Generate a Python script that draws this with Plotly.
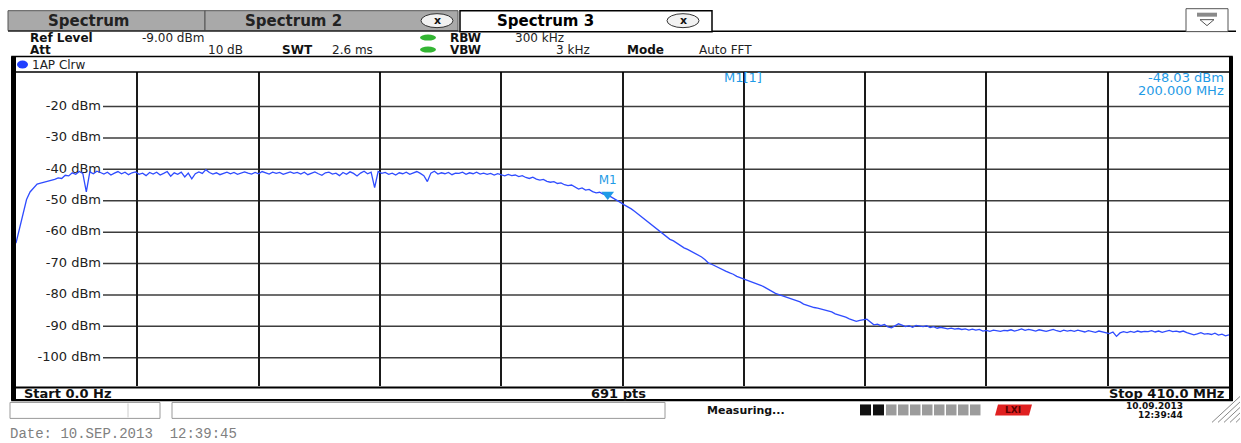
import numpy as np
import plotly.graph_objects as go

# ---------------- data ----------------
START_MHZ = 0.0
STOP_MHZ = 410.0
REF_LEVEL_DBM = -9.0
BOTTOM_DBM = -109.0
SWEEP_POINTS_TEXT = "691 pts"

LEVEL_DBM = [
    -63.5, -58.6, -54.0, -49.6, -47.2, -45.9, -44.7, -44.4, -44.1, -43.9,
    -43.6, -43.2, -42.7, -42.9, -41.9, -42.1, -41.1, -41.6, -40.7, -41.3,
    -47.2, -40.8, -41.4, -40.6, -41.0, -41.5, -40.9, -41.8, -41.2, -40.7,
    -41.4, -40.9, -41.7, -41.1, -40.8, -41.6, -41.2, -42.0, -41.0, -41.5,
    -40.9, -41.8, -41.3, -40.7, -42.2, -41.1, -41.6, -40.9, -42.4, -41.2,
    -43.0, -41.4, -40.8, -41.3, -40.1, -41.0, -41.5, -41.1, -41.7, -41.2,
    -40.9, -41.4, -41.0, -41.6, -41.3, -40.8, -41.2, -41.5, -41.0, -41.4,
    -40.7, -41.1, -41.5, -40.9, -41.3, -41.0, -41.6, -41.2, -40.8, -41.3,
    -41.0, -41.5, -40.9, -41.7, -41.2, -40.8, -41.4, -41.9, -41.1, -40.9,
    -41.5, -41.2, -42.0, -41.0, -41.6, -40.8, -41.3, -42.1, -41.2, -40.6,
    -41.4, -40.9, -45.8, -40.7, -41.3, -41.0, -41.6, -41.2, -41.8, -41.1,
    -41.4, -40.9, -41.6, -41.2, -40.7, -41.3, -42.0, -43.9, -41.2, -40.6,
    -41.5, -41.1, -41.4, -41.0, -41.7, -41.2, -41.3, -40.9, -41.6, -41.1,
    -41.4, -40.9, -41.5, -41.2, -41.6, -41.3, -41.8, -41.4, -41.7, -42.1,
    -41.6, -42.0, -41.8, -42.3, -42.0, -42.6, -42.9, -42.5, -43.1, -43.4,
    -43.2, -43.8, -44.1, -43.9, -44.5, -44.3, -44.9, -45.2, -45.0, -45.6,
    -46.3, -45.9, -46.6, -46.4, -47.1, -47.5, -47.3, -47.9, -48.0, -48.6,
    -49.2, -49.8, -50.6, -51.3, -51.9, -52.6, -53.4, -54.3, -55.1, -56.0,
    -57.0, -57.9, -58.8, -59.9, -60.7, -61.4, -62.3, -62.8, -63.6, -64.2,
    -65.0, -65.5, -66.1, -66.9, -67.4, -67.9, -68.8, -69.9, -70.3, -70.9,
    -71.5, -71.9, -72.5, -73.0, -73.4, -74.1, -74.5, -75.0, -75.4, -75.6,
    -76.2, -76.5, -77.0, -77.6, -78.3, -78.9, -79.5, -79.9, -80.3, -80.6,
    -80.9, -81.3, -81.7, -82.2, -82.9, -83.3, -83.6, -84.0, -84.2, -84.5,
    -84.8, -85.1, -85.4, -86.0, -86.3, -86.7, -87.1, -87.6, -87.9, -88.4,
    -88.1, -87.8, -87.7, -88.6, -89.5, -89.3, -89.8, -89.4, -90.2, -90.5,
    -89.9, -89.2, -89.6, -90.1, -89.8, -90.3, -89.7, -90.0, -90.1, -89.8,
    -90.4, -90.1, -90.6, -90.3, -90.5, -90.8, -90.6, -90.9, -90.7, -91.0,
    -90.8, -91.2, -90.9, -91.2, -91.0, -91.5, -91.3, -91.6, -91.2, -91.4,
    -91.6, -91.3, -91.4, -91.1, -91.5, -91.2, -90.8, -91.3, -91.0, -91.2,
    -91.5, -91.1, -91.4, -91.6, -91.3, -91.0, -91.4, -91.7, -91.2, -91.5,
    -91.3, -91.6, -91.2, -91.5, -91.8, -91.4, -91.6, -91.9, -91.5, -91.8,
    -92.0, -92.3, -91.8, -93.2, -92.1, -91.7, -92.0, -91.6, -91.9, -91.5,
    -91.8, -91.6, -91.7, -91.4, -91.8, -91.5, -91.9, -91.6, -91.3, -91.7,
    -91.5, -91.8, -91.5, -92.0, -92.3, -92.7, -92.4, -92.0, -92.5, -92.3,
    -92.6, -92.2, -92.8, -92.5, -93.0, -92.7,
]
FREQ_MHZ = np.linspace(START_MHZ, STOP_MHZ, len(LEVEL_DBM))

X_GRID_MHZ = [41, 82, 123, 164, 205, 246, 287, 328, 369]
Y_GRID_DBM = [-20, -30, -40, -50, -60, -70, -80, -90, -100]
Y_LABELS = ["-20 dBm", "-30 dBm", "-40 dBm", "-50 dBm", "-60 dBm",
            "-70 dBm", "-80 dBm", "-90 dBm", "-100 dBm"]

MARKER_NAME = "M1"
MARKER_FREQ_MHZ = 200.0
MARKER_LEVEL_DBM = -48.03

# ---------------- page geometry (pixels) ----------------
W, H = 1241, 443
L, R, T, B = 16, 1229, 71.5, 386.5


def px(x):
    return (x - L) / (R - L)


def py(y):
    return (B - y) / (B - T)


def rect(x0, y0, x1, y1, fill=None, line="black", lw=1, layer="above"):
    d = dict(type="rect", xref="paper", yref="paper",
             x0=px(x0), x1=px(x1), y0=py(y1), y1=py(y0), layer=layer,
             line=dict(color=line, width=lw) if line else dict(width=0))
    if fill:
        d["fillcolor"] = fill
    return d


def circ(x0, y0, x1, y1, fill, line=None, lw=1):
    d = dict(type="circle", xref="paper", yref="paper",
             x0=px(x0), x1=px(x1), y0=py(y1), y1=py(y0), fillcolor=fill,
             line=dict(color=line, width=lw) if line else dict(width=0))
    return d


def hline(x0, x1, y, color="black", lw=1):
    return dict(type="line", xref="paper", yref="paper", x0=px(x0), x1=px(x1),
                y0=py(y), y1=py(y), line=dict(color=color, width=lw))


def seg(x0, y0, x1, y1, color="black", lw=1):
    return dict(type="line", xref="paper", yref="paper", x0=px(x0), x1=px(x1),
                y0=py(y0), y1=py(y1), line=dict(color=color, width=lw))


def path(points, fill, line=None, lw=1):
    p = "M " + " L ".join(f"{px(a):.5f},{py(b):.5f}" for a, b in points) + " Z"
    return dict(type="path", xref="paper", yref="paper", path=p, fillcolor=fill,
                line=dict(color=line, width=lw) if line else dict(width=0))


def text(x, y, s, size=12, color="#111", anchor="left", bold=False,
         family="DejaVu Sans"):
    return dict(xref="paper", yref="paper", x=px(x), y=py(y), text=s,
                showarrow=False, xanchor=anchor, yanchor="middle",
                font=dict(family=family, size=size, color=color,
                          weight="bold" if bold else "normal"))


TRACE_BLUE = "#2f4cff"
MARK_BLUE = "#1f9be6"

fig = go.Figure()

# level labels inside the diagram (drawn below the trace)
label_x = (101 - L) / (R - L) * (STOP_MHZ - START_MHZ) + START_MHZ
fig.add_trace(go.Scatter(
    x=[label_x] * len(Y_GRID_DBM), y=Y_GRID_DBM, mode="text",
    text=Y_LABELS, textposition="middle left",
    textfont=dict(family="DejaVu Sans", size=13, color="#222"),
    hoverinfo="skip", cliponaxis=False))

# the measured trace
fig.add_trace(go.Scatter(
    x=FREQ_MHZ, y=LEVEL_DBM, mode="lines",
    line=dict(color=TRACE_BLUE, width=1.3), hoverinfo="skip"))

# marker M1
fig.add_trace(go.Scatter(
    x=[MARKER_FREQ_MHZ], y=[MARKER_LEVEL_DBM], mode="markers+text",
    marker=dict(symbol="triangle-down", size=11, color=MARK_BLUE),
    text=[MARKER_NAME], textposition="top center",
    textfont=dict(family="DejaVu Sans", size=12, color=MARK_BLUE),
    hoverinfo="skip", cliponaxis=False))

shapes = []
# horizontal level grid lines (start after the labels)
for v in Y_GRID_DBM:
    shapes.append(dict(type="line", xref="paper", yref="y", x0=px(103), x1=1,
                       y0=v, y1=v, layer="below",
                       line=dict(color="#3c3c3c", width=1.5)))

# ---- diagram frame ----
shapes += [
    rect(12, 56, 1232, 401, line="black", lw=1.5),
    rect(11, 56, 16, 401, fill="black", line=None),
    rect(1229, 56, 1233, 401, fill="black", line=None),
    hline(16, 1229, 71.5, "black", 1.5),
    hline(16, 1229, 388, "black", 2),
    hline(12, 1233, 400.5, "black", 2),
    circ(17, 60, 28, 68, fill="#1f3fff"),
]

# ---- tabs ----
shapes += [
    rect(8, 10, 205, 30, fill="#a9a9a9", line="#555", lw=1),
    rect(205, 10, 458, 30, fill="#a9a9a9", line="#555", lw=1),
    rect(460, 10, 712, 31, fill="white", line="black", lw=1.5),
    hline(712, 1236, 30.5, "black", 1.5),
    hline(8, 460, 30.5, "black", 1),
    circ(421, 13, 453, 27, fill="#f2f2f2", line="#333", lw=1),
    circ(667, 13, 699, 27, fill="#f2f2f2", line="#333", lw=1),
    rect(1186, 8, 1228, 31, fill="white", line="#555", lw=1),
    rect(1197, 12, 1217, 16, fill="#8a8a8a", line=None),
    path([(1200, 19), (1214, 19), (1207, 25)], fill="white", line="#555"),
    circ(420, 34, 436, 40, fill="#33b533"),
    circ(420, 46, 436, 52, fill="#33b533"),
]

# ---- status bar ----
shapes += [
    rect(10, 403, 160, 419, fill="white", line="#9a9a9a", lw=1),
    seg(128, 404, 128, 418, "#cccccc", 1),
    rect(172, 403, 665, 419, fill="white", line="#9a9a9a", lw=1),
    rect(860, 405, 871, 416, fill="#111", line=None),
    rect(873, 405, 884, 416, fill="#111", line=None),
]
for k in range(8):
    x0 = 886 + k * 12
    shapes.append(rect(x0, 405, x0 + 10.5, 416, fill="#9c9c9c", line=None))
shapes.append(path([(998, 405), (1032, 405), (1029, 416), (995, 416)],
                   fill="#e02020"))
for k in range(5):
    shapes.append(seg(1212 + k * 6, 423, 1240, 397 + k * 5.5, "#888", 1))

annotations = [
    text(88, 20, "Spectrum", 15, "#222", "center", True),
    text(293, 20, "Spectrum 2", 15, "#222", "center", True),
    text(545, 20, "Spectrum 3", 15, "#000", "center", True),
    text(437, 20, "x", 11, "#111", "center", True),
    text(683, 20, "x", 11, "#111", "center", True),
    text(28, 37, "Ref Level", 12, "#111", "left", True),
    text(140, 37, "-9.00 dBm", 12, "#222"),
    text(28, 49, "Att", 12, "#111", "left", True),
    text(245, 49, "10 dB", 12, "#222", "right"),
    text(280, 49, "SWT", 12, "#111", "left", True),
    text(330, 49, "2.6 ms", 12, "#222"),
    text(448, 37, "RBW", 12, "#111", "left", True),
    text(513, 37, "300 kHz", 12, "#222"),
    text(448, 49, "VBW", 12, "#111", "left", True),
    text(592, 49, "3 kHz", 12, "#222", "right"),
    text(625, 49, "Mode", 12, "#111", "left", True),
    text(697, 49, "Auto FFT", 12, "#222"),
    text(30, 64, "1AP Clrw", 12, "#222"),
    text(722, 77, "M1[1]", 13, MARK_BLUE),
    text(1226, 77, "-48.03 dBm", 13, MARK_BLUE, "right"),
    text(1226, 90, "200.000 MHz", 13, MARK_BLUE, "right"),
    text(22, 394.5, "Start 0.0 Hz", 13, "#111", "left", True),
    text(618, 394.5, SWEEP_POINTS_TEXT, 13, "#111", "center", True),
    text(1226, 394.5, "Stop 410.0 MHz", 13, "#111", "right", True),
    text(705, 411, "Measuring...", 11, "#111", "left", True),
    text(1013, 410.5, "LXI", 9, "#5a0000", "center", True),
    text(1185, 407, "10.09.2013", 9, "#111", "right", True),
    text(1185, 416, "12:39:44", 9, "#111", "right", True),
    text(8, 435, "Date: 10.SEP.2013\u00a0 12:39:45", 14, "#808080", "left",
         False, "Liberation Mono"),
]

fig.update_layout(
    width=W, height=H,
    margin=dict(l=L, r=W - R, t=T, b=H - B, pad=0),
    paper_bgcolor="white", plot_bgcolor="white",
    showlegend=False,
    xaxis=dict(range=[START_MHZ, STOP_MHZ], tickvals=X_GRID_MHZ,
               showticklabels=False, ticks="", showgrid=True,
               gridcolor="#1a1a1a", gridwidth=2, zeroline=False,
               showline=False, fixedrange=True),
    yaxis=dict(range=[BOTTOM_DBM, REF_LEVEL_DBM], showgrid=False,
               showticklabels=False, ticks="", zeroline=False,
               showline=False, fixedrange=True),
    shapes=shapes, annotations=annotations,
)

fig.write_html(
    "out.html",
    config={"displayModeBar": False, "staticPlot": True},
    post_script="document.body.style.margin='0';"
                "document.body.style.overflow='hidden';",
)
